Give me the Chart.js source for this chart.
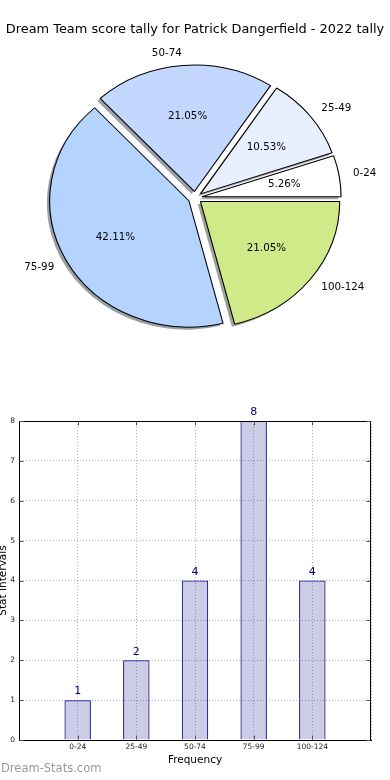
<!DOCTYPE html>
<html>
<head>
<meta charset="utf-8">
<script src="https://cdn.jsdelivr.net/npm/chart.js@4.4.1/dist/chart.umd.min.js"></script>
<style>
  html, body { margin: 0; padding: 0; background: #fff; }
  body { width: 390px; height: 780px; position: relative; overflow: hidden; font-family: 'DejaVu Sans', sans-serif; }
  #pieChart { position: absolute; left: 0; top: 0; }
  #barChart { position: absolute; left: 0; top: 396px; }
  .stamp { position: absolute; left: 1px; top: 763px; font-size: 11.5px; line-height: 1; color: #9a9a9a; }
</style>
</head>
<body>
<canvas id="pieChart" width="390" height="396"></canvas>
<canvas id="barChart" width="390" height="384"></canvas>
<div class="stamp">Dream-Stats.com</div>
<script>
// data
const categories = ['0-24', '25-49', '50-74', '75-99', '100-124'];
const counts = [1, 2, 4, 8, 4];
const chartTitle = 'Dream Team score tally for Patrick Dangerfield - 2022 tally';

const sliceColors = ['#ffffff', '#e8f0ff', '#c4d8ff', '#b4d4ff', '#d0ea8a'];

Chart.defaults.font.family = "'DejaVu Sans', sans-serif";
Chart.defaults.color = '#000';

// the original pie is counter clockwise from 3 o'clock, chart.js goes clockwise -> reverse
const pieLabels = categories.slice().reverse();
const pieValues = counts.slice().reverse();
const pieColors = sliceColors.slice().reverse();
const total = counts.reduce((a, b) => a + b, 0);

const stretchX = 139.2 / 126.4;   // old matplotlib pie is a bit wider than tall
const explode = 0.05;

function shadowOf(hex) {
  const n = parseInt(hex.slice(1), 16);
  const r = (n >> 16) & 255, g = (n >> 8) & 255, b = n & 255;
  return 'rgba(' + Math.round(r * 0.3) + ',' + Math.round(g * 0.3) + ',' + Math.round(b * 0.3) + ',0.5)';
}

const pieLook = {
  id: 'pieLook',
  beforeDatasetDraw(chart, args) {
    const ctx = chart.ctx;
    const arcs = args.meta.data;
    const pass = (shadow) => arcs.forEach((arc) => {
      const mid = (arc.startAngle + arc.endAngle) / 2;
      const d = explode * arc.outerRadius;
      ctx.save();
      if (shadow) ctx.translate(-2.8, 2.5);
      ctx.translate(arc.x, arc.y);
      ctx.scale(stretchX, 1);
      ctx.translate(-arc.x, -arc.y);
      ctx.translate(Math.cos(mid) * d, Math.sin(mid) * d);
      if (shadow) {
        ctx.beginPath();
        ctx.moveTo(arc.x, arc.y);
        ctx.arc(arc.x, arc.y, arc.outerRadius, arc.startAngle, arc.endAngle);
        ctx.closePath();
        ctx.fillStyle = shadowOf(arc.options.backgroundColor);
        ctx.fill();
      } else {
        arc.draw(ctx);
      }
      ctx.restore();
    });
    pass(true);
    pass(false);
    return false;
  },
  afterDatasetsDraw(chart) {
    const ctx = chart.ctx;
    const meta = chart.getDatasetMeta(0);
    ctx.save();
    ctx.font = "10.3px 'DejaVu Sans'";
    ctx.fillStyle = '#000';
    ctx.textBaseline = 'middle';
    meta.data.forEach((arc, i) => {
      const mid = (arc.startAngle + arc.endAngle) / 2;
      const r = arc.outerRadius;
      const c = Math.cos(mid), s = Math.sin(mid);
      const lx = arc.x + stretchX * r * (1.1 + explode) * c;
      const ly = arc.y + r * (1.1 + explode) * s;
      ctx.textAlign = c > 0 ? 'left' : 'right';
      ctx.fillText(pieLabels[i], lx, ly);
      const px = arc.x + stretchX * r * (0.6 + explode) * c;
      const py = arc.y + r * (0.6 + explode) * s;
      ctx.textAlign = 'center';
      ctx.fillText((pieValues[i] / total * 100).toFixed(2) + '%', px, py);
    });
    ctx.restore();
  }
};

new Chart(document.getElementById('pieChart'), {
  type: 'pie',
  data: {
    labels: pieLabels,
    datasets: [{
      data: pieValues,
      backgroundColor: pieColors,
      borderColor: '#000',
      borderWidth: 1
    }]
  },
  options: {
    responsive: false,
    animation: false,
    devicePixelRatio: 1,
    rotation: 90,
    radius: 126.4,
    layout: { padding: { bottom: 38 } },
    plugins: {
      legend: { display: false },
      tooltip: { enabled: false },
      title: {
        display: true,
        text: chartTitle,
        color: '#000',
        font: { size: 12.9, weight: 'normal' },
        padding: { top: 22, bottom: 0 }
      }
    }
  },
  plugins: [pieLook]
});

// bar chart extras: top/right frame, inward ticks, numbers over bars
const frame = {
  id: 'frame',
  afterDraw(chart) {
    const ctx = chart.ctx;
    const a = chart.chartArea;
    const L = Math.round(a.left) + 0.5, R = Math.round(a.right) - 0.5;
    const T = Math.round(a.top) + 0.5, B = Math.round(a.bottom) - 0.5;
    ctx.save();
    ctx.strokeStyle = '#000';
    ctx.lineWidth = 1;
    ctx.beginPath();
    ctx.moveTo(L, T); ctx.lineTo(R, T); ctx.lineTo(R, B + 1);
    ctx.stroke();
    ctx.beginPath();
    chart.scales.y.ticks.forEach(t => {
      const y = Math.round(chart.scales.y.getPixelForValue(t.value)) + 0.5;
      ctx.moveTo(L, y); ctx.lineTo(L + 4, y);
      ctx.moveTo(R, y); ctx.lineTo(R - 4, y);
    });
    categories.forEach((c, i) => {
      const x = Math.round(chart.scales.x.getPixelForValue(i)) + 0.5;
      ctx.moveTo(x, B); ctx.lineTo(x, B - 4);
      ctx.moveTo(x, T); ctx.lineTo(x, T + 4);
    });
    ctx.strokeStyle = '#555';
    ctx.stroke();
    ctx.restore();
  }
};

const valueLabels = {
  id: 'valueLabels',
  afterDatasetsDraw(chart) {
    const ctx = chart.ctx;
    ctx.save();
    ctx.font = "11px 'DejaVu Sans'";
    ctx.fillStyle = '#000080';
    ctx.textAlign = 'center';
    ctx.textBaseline = 'middle';
    chart.getDatasetMeta(0).data.forEach((bar, i) => {
      ctx.fillText(String(counts[i]), bar.x, bar.y - 8.5);
    });
    ctx.restore();
  }
};

const gridLook = { color: 'rgba(0,0,0,0.3)', drawTicks: false };

new Chart(document.getElementById('barChart'), {
  type: 'bar',
  data: {
    datasets: [{
      data: counts.map((c, i) => ({ x: i, y: c })),
      backgroundColor: 'rgba(0,0,128,0.2)',
      borderColor: '#000080',
      borderWidth: 1,
      barPercentage: 0.45,
      categoryPercentage: 1
    }]
  },
  options: {
    responsive: false,
    animation: false,
    devicePixelRatio: 1,
    layout: { padding: { top: 25, right: 19, left: 0, bottom: 0 } },
    plugins: { legend: { display: false }, tooltip: { enabled: false } },
    scales: {
      x: {
        type: 'linear',
        min: -1,
        max: 5,
        offset: false,
        afterFit(s) { s.height = 40; },
        ticks: {
          stepSize: 1,
          autoSkip: false,
          maxRotation: 0,
          font: { size: 7.5 },
          color: '#222',
          padding: 3,
          callback: v => categories[v] ?? ''
        },
        grid: Object.assign({ offset: false }, gridLook),
        border: { color: '#000', dash: [1, 2] },
        title: { display: true, text: 'Frequency', color: '#000', font: { size: 10.5 }, padding: { top: 0, bottom: 13 } }
      },
      y: {
        min: 0,
        max: 8,
        afterFit(s) { s.width = 19; },
        ticks: { stepSize: 1, font: { size: 7.5 }, color: '#222', padding: 4 },
        grid: gridLook,
        border: { color: '#000', dash: [1, 2] },
        title: { display: true, text: 'Stat Intervals', color: '#000', font: { size: 10.5, lineHeight: 1 }, padding: { top: -1.5, bottom: 0 } }
      }
    }
  },
  plugins: [frame, valueLabels]
});
</script>
</body>
</html>
